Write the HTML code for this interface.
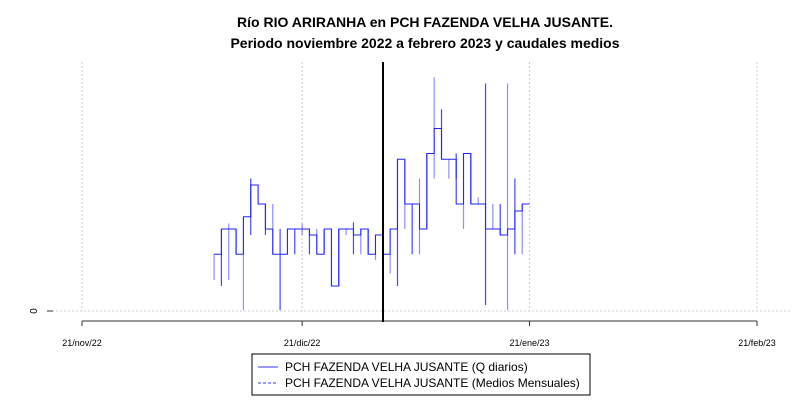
<!DOCTYPE html>
<html><head><meta charset="utf-8"><style>
body{margin:0;background:#fff}
svg{display:block;font-family:"Liberation Sans",Arial,sans-serif}
</style></head><body>
<svg width="800" height="400" viewBox="0 0 800 400">
<text x="425" y="27" text-anchor="middle" font-size="14" font-weight="bold">Río RIO ARIRANHA en PCH FAZENDA VELHA JUSANTE.</text>
<text x="425" y="48" text-anchor="middle" font-size="14" font-weight="bold">Periodo noviembre 2022 a febrero 2023 y caudales medios</text>
<g id="grid"></g>
<line x1="47" y1="311" x2="53" y2="311" stroke="#333"/>
<text x="0" y="0" transform="translate(37,311) rotate(-90)" text-anchor="middle" font-size="10">0</text>
<g id="xaxis"></g>
<g id="series"></g>
<line id="vline" x1="383" y1="62" x2="383" y2="322" stroke="#000" stroke-width="2"/>
<g>
<rect x="252" y="354" width="338" height="41" fill="#fff" stroke="#000"/>
<line x1="258" y1="367" x2="278" y2="367" stroke="#3333ff"/>
<text x="285" y="371" font-size="12">PCH FAZENDA VELHA JUSANTE (Q diarios)</text>
<line x1="258" y1="383" x2="278" y2="383" stroke="#3333ff" stroke-dasharray="3,2"/>
<text x="285" y="387" font-size="12">PCH FAZENDA VELHA JUSANTE (Medios Mensuales)</text>
</g>
</svg>
<script>
const tickLabels=["21/nov/22","21/dic/22","21/ene/23","21/feb/23"];
const tickDays=[0,30,61,92];
const startDay=18;
const dailyValues=[2.27,3.28,3.28,2.27,3.77,5.04,4.28,3.28,2.27,2.27,3.28,3.28,3.28,3.04,2.27,3.28,1.0,3.28,3.28,3.04,3.28,2.27,3.04,2.27,3.28,6.07,4.28,4.28,3.28,6.3,7.3,6.07,6.07,4.28,6.3,4.28,4.28,3.28,3.28,3.04,3.28,4.0,4.28];
const dailyLow=[1.24,1.0,1.24,2.27,0.04,3.04,4.28,3.04,2.27,0.04,2.27,2.27,3.04,2.27,2.27,2.27,1.0,1.0,3.04,2.27,2.27,2.27,2.04,2.27,1.5,1.0,3.28,2.27,2.27,3.28,5.3,6.07,5.3,5.3,3.28,4.28,4.28,0.24,3.28,3.04,0.04,2.27,2.27];
const dailyHigh=[2.27,3.28,3.5,3.28,3.77,5.3,5.04,4.28,4.28,3.28,3.28,3.28,3.5,3.28,3.28,3.28,3.28,3.28,3.28,3.55,3.28,3.28,3.04,3.04,3.28,6.07,6.07,4.28,5.3,6.3,9.35,8.07,6.07,6.3,6.3,6.3,4.55,9.1,4.28,4.28,9.1,5.3,4.28];
const NS="http://www.w3.org/2000/svg";
const xS=d=>82+d*(757-82)/92;
const yS=v=>311-v*25;
function mk(tag,attrs,parent){const e=document.createElementNS(NS,tag);for(const k in attrs)e.setAttribute(k,attrs[k]);parent.appendChild(e);return e;}
const grid=document.getElementById('grid'),xa=document.getElementById('xaxis'),ser=document.getElementById('series');
const hg=mk('line',{x1:52,x2:790,y1:yS(0),y2:yS(0),stroke:'#ccc','stroke-dasharray':'2,2'},grid);


mk('line',{x1:xS(tickDays[0]),x2:xS(tickDays[3]),y1:321,y2:321,stroke:'#333'},xa);
tickDays.forEach((d,i)=>{
 const g=mk('line',{x1:xS(d),x2:xS(d),y1:62,y2:311,stroke:'#ccc','stroke-dasharray':'2,2'},grid);
 
 
 const t=mk('line',{x1:xS(d),x2:xS(d),y1:321,y2:326,stroke:'#333'},xa);
 
 
 const l=mk('text',{x:xS(d),y:346,'text-anchor':'middle','font-size':'9'},xa);
 l.textContent=tickLabels[i];
 
 
});
let p='';
dailyValues.forEach((v,i)=>{
 const x0=xS(startDay+i),x1=xS(startDay+i+1);
 if(i===0)p+=`M${x0},${yS(v)}`;else p+=`L${x0},${yS(v)}`;
 p+=`L${x1},${yS(v)}`;
 const r=mk('line',{x1:x0,x2:x0,y1:yS(dailyLow[i]),y2:yS(dailyHigh[i]),stroke:'#3333ff','stroke-opacity':(i%2?0.9:0.55),'stroke-width':1.2},ser);
 
 
});
const pl=mk('path',{d:p,fill:'none',stroke:'#2222ff','stroke-width':1},ser);


</script>
</body></html>
